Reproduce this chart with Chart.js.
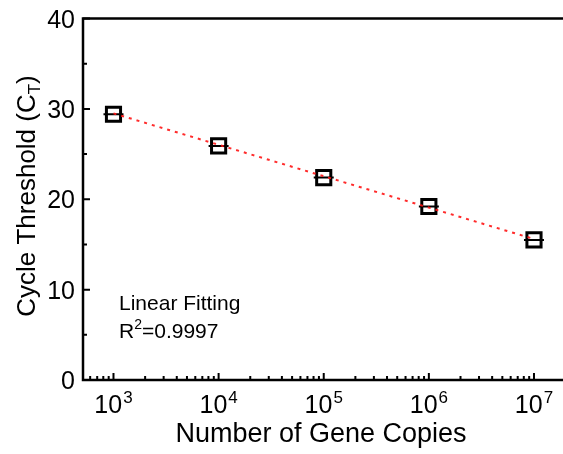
<!DOCTYPE html>
<html>
<head>
<meta charset="utf-8">
<script src="https://cdn.jsdelivr.net/npm/chart.js@4"></script>
<style>
  html, body { margin: 0; padding: 0; background: #fff; }
  canvas { display: block; }
</style>
</head>
<body>
<canvas id="chart" width="563" height="454"></canvas>
<script>
// data
const copies = [1e3, 1e4, 1e5, 1e6, 1e7];
const ctValues = [29.4, 25.9, 22.4, 19.2, 15.5];
const fitCopies = [1e3, 1e7];
const fitCt = [29.5, 15.6];
const yTicks = [0, 10, 20, 30, 40];
const yMinorTicks = [5, 15, 25, 35];
const xTickExps = [3, 4, 5, 6, 7];

const FONT = '"Liberation Sans", Arial, sans-serif';

// axes, ticks and labels are drawn by hand (ticks point inward, superscripts)
const axesPlugin = {
  id: 'axesPlugin',
  afterDraw(chart) {
    const ctx = chart.ctx;
    const a = chart.chartArea;
    const xs = chart.scales.x;
    const ys = chart.scales.y;
    ctx.save();
    ctx.strokeStyle = '#000';
    ctx.fillStyle = '#000';

    // frame: left, bottom, top
    ctx.lineWidth = 2.5;
    ctx.beginPath();
    ctx.moveTo(a.right + 2, a.top);
    ctx.lineTo(a.left, a.top);
    ctx.lineTo(a.left, a.bottom);
    ctx.lineTo(a.right + 2, a.bottom);
    ctx.stroke();

    // y ticks
    ctx.lineWidth = 2;
    ctx.beginPath();
    yTicks.forEach(v => {
      const p = ys.getPixelForValue(v);
      ctx.moveTo(a.left, p);
      ctx.lineTo(a.left + 7, p);
    });
    yMinorTicks.forEach(v => {
      const p = ys.getPixelForValue(v);
      ctx.moveTo(a.left, p);
      ctx.lineTo(a.left + 4, p);
    });
    ctx.stroke();

    ctx.font = '25px ' + FONT;
    ctx.textAlign = 'right';
    ctx.textBaseline = 'alphabetic';
    yTicks.forEach(v => {
      const p = ys.getPixelForValue(v);
      ctx.fillText(String(v), a.left - 8, p + 9);
    });

    // x ticks (log, inward)
    ctx.beginPath();
    for (let e = 2; e <= 7; e++) {
      for (let k = 1; k <= 9; k++) {
        const v = k * Math.pow(10, e);
        if (v < xs.min || v > xs.max) continue;
        const p = xs.getPixelForValue(v);
        ctx.moveTo(p, a.bottom);
        ctx.lineTo(p, a.bottom - (k === 1 ? 7 : 4));
      }
    }
    ctx.stroke();

    ctx.textAlign = 'left';
    xTickExps.forEach(e => {
      const p = xs.getPixelForValue(Math.pow(10, e));
      ctx.font = '25px ' + FONT;
      const wBase = ctx.measureText('10').width;
      ctx.font = '17px ' + FONT;
      const wExp = ctx.measureText(String(e)).width;
      const x0 = p - (wBase + 1 + wExp) / 2;
      ctx.font = '25px ' + FONT;
      ctx.fillText('10', x0, 413);
      ctx.font = '17px ' + FONT;
      ctx.fillText(String(e), x0 + wBase + 1, 403);
    });

    // x title
    ctx.font = '27px ' + FONT;
    ctx.textAlign = 'center';
    ctx.fillText('Number of Gene Copies', 321, 442);

    // y title with subscript
    ctx.save();
    ctx.translate(35, 196);
    ctx.rotate(-Math.PI / 2);
    ctx.textAlign = 'left';
    ctx.font = '26px ' + FONT;
    const t1 = 'Cycle Threshold (C';
    const w1 = ctx.measureText(t1).width;
    ctx.font = '17px ' + FONT;
    const w2 = ctx.measureText('T').width;
    ctx.font = '26px ' + FONT;
    const w3 = ctx.measureText(')').width;
    let sx = -(w1 + w2 + w3) / 2;
    ctx.fillText(t1, sx, 0);
    ctx.font = '17px ' + FONT;
    ctx.fillText('T', sx + w1, 5);
    ctx.font = '26px ' + FONT;
    ctx.fillText(')', sx + w1 + w2, 0);
    ctx.restore();

    // annotation
    ctx.textAlign = 'left';
    ctx.font = '21px ' + FONT;
    ctx.fillText('Linear Fitting', 119, 310);
    ctx.fillText('R', 119, 338);
    const wR = ctx.measureText('R').width;
    ctx.font = '14px ' + FONT;
    ctx.fillText('2', 119 + wR, 329);
    const w2s = ctx.measureText('2').width;
    ctx.font = '21px ' + FONT;
    ctx.fillText('=0.9997', 119 + wR + w2s, 338);

    ctx.restore();
  }
};

const pts = copies.map((c, i) => ({ x: c, y: ctValues[i] }));

new Chart(document.getElementById('chart'), {
  type: 'scatter',
  data: {
    datasets: [
      {
        label: 'Linear Fitting',
        data: fitCopies.map((c, i) => ({ x: c, y: fitCt[i] })),
        showLine: true,
        borderColor: 'rgba(255, 20, 20, 0.9)',
        borderWidth: 2,
        borderDash: [3, 5],
        pointRadius: 0,
        order: 0
      },
      {
        label: 'CT',
        data: pts,
        pointStyle: 'rect',
        pointRadius: 10,
        borderColor: '#000',
        borderWidth: 3,
        backgroundColor: 'rgba(0,0,0,0)',
        order: 1
      },
      {
        label: 'error caps',
        data: pts,
        pointStyle: 'line',
        pointRadius: 10,
        borderColor: '#000',
        borderWidth: 2,
        order: 1
      }
    ]
  },
  options: {
    responsive: false,
    animation: false,
    devicePixelRatio: 1,
    layout: { autoPadding: false, padding: { left: 83, top: 18.5, right: 0, bottom: 74 } },
    scales: {
      x: {
        type: 'logarithmic',
        min: Math.pow(10, 2.71),
        max: Math.pow(10, 7.276),
        display: false
      },
      y: {
        min: 0,
        max: 40,
        display: false
      }
    },
    plugins: {
      legend: { display: false },
      tooltip: { enabled: false }
    }
  },
  plugins: [axesPlugin]
});
</script>
</body>
</html>
